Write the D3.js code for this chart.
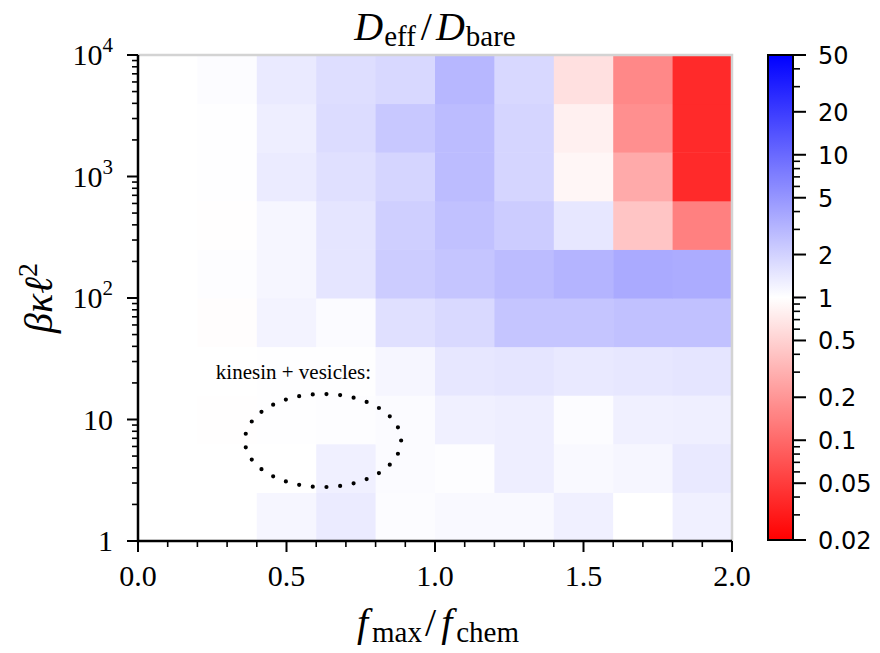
<!DOCTYPE html>
<html>
<head>
<meta charset="utf-8">
<script src="https://cdn.jsdelivr.net/npm/d3@7"></script>
<style>
  html, body { margin: 0; padding: 0; background: #fff; }
  svg { display: block; }
  .serif { font-family: "Liberation Serif", "DejaVu Serif", serif; }
  .sans { font-family: "DejaVu Sans", sans-serif; }
</style>
</head>
<body>
<svg id="chart" width="880" height="653"></svg>
<script>
// x bins: f_max / f_chem
const xEdges = [0, 0.2, 0.4, 0.6, 0.8, 1.0, 1.2, 1.4, 1.6, 1.8, 2.0];
// y bins: beta*kappa*l^2, 0.4 decades each (log10 exponents)
const yEdgeExps = [0, 0.4, 0.8, 1.2, 1.6, 2.0, 2.4, 2.8, 3.2, 3.6, 4.0];

// D_eff / D_bare per row, bottom row first
const row1 = [1.00, 1.00, 1.15, 1.35, 1.05, 1.10, 1.10, 1.25, 1.00, 1.25];
const row2 = [1.00, 1.00, 1.00, 1.25, 1.07, 1.03, 1.30, 1.10, 1.15, 1.40];
const row3 = [1.00, 0.99, 1.01, 1.03, 1.06, 1.25, 1.30, 1.05, 1.25, 1.27];
const row4 = [1.00, 1.00, 1.02, 1.02, 1.15, 1.45, 1.50, 1.40, 1.45, 1.50];
const row5 = [1.00, 0.97, 1.20, 1.07, 1.60, 1.80, 2.45, 2.45, 2.60, 2.60];
const row6 = [1.00, 1.03, 1.15, 1.50, 2.20, 2.45, 2.80, 3.16, 3.70, 3.60];
const row7 = [1.00, 0.98, 1.15, 1.50, 2.10, 2.60, 2.20, 1.45, 0.41, 0.143];
const row8 = [1.00, 1.02, 1.35, 1.60, 1.90, 2.80, 1.90, 0.87, 0.27, 0.038];
const row9 = [1.00, 1.02, 1.30, 1.70, 2.33, 2.80, 1.90, 0.79, 0.18, 0.038];
const row10 = [1.00, 1.05, 1.38, 1.66, 1.82, 3.00, 1.82, 0.62, 0.16, 0.038];
const rows = [row1, row2, row3, row4, row5, row6, row7, row8, row9, row10];

const xTicks = [0, 0.5, 1.0, 1.5, 2.0];
const xTickLabels = ["0.0", "0.5", "1.0", "1.5", "2.0"];
const yTicks = [1, 10, 100, 1000, 10000];
const cbTicks = [0.02, 0.05, 0.1, 0.2, 0.5, 1, 2, 5, 10, 20, 50];
const cbTickLabels = ["0.02", "0.05", "0.1", "0.2", "0.5", "1", "2", "5", "10", "20", "50"];
const vmin = 0.02, vmax = 50;

// annotated region (ellipse in linear-x / log-y space)
const ellipse = { cx: 0.623, cyExp: 0.827, ax: 0.263, byExp: 0.383 };
const annotation = { x: 0.262, y: 21.5, text: "kinesin + vesicles:" };

const svg = d3.select("#chart");
const plot = { left: 138, right: 732, top: 55, bottom: 541 };

const x = d3.scaleLinear().domain([0, 2]).range([plot.left, plot.right]);
const y = d3.scaleLog().domain([1, 1e4]).range([plot.bottom, plot.top]);

// blue-white-red diverging map on a log norm centred at 1
const cnorm = d3.scaleLog().domain([vmin, vmax]).range([0, 1]).clamp(true);
function cmap(v) {
  const t = cnorm(v);
  if (t < 0.5) {
    const s = t / 0.5;
    return d3.rgb(255, 255 * s, 255 * s);
  }
  const s = (t - 0.5) / 0.5;
  return d3.rgb(255 * (1 - s), 255 * (1 - s), 255);
}

// heatmap cells
const cells = [];
rows.forEach((r, j) => r.forEach((v, i) => cells.push({ i, j, v })));
svg.append("g").selectAll("rect").data(cells).join("rect")
  .attr("x", d => x(xEdges[d.i]))
  .attr("y", d => y(Math.pow(10, yEdgeExps[d.j + 1])))
  .attr("width", d => x(xEdges[d.i + 1]) - x(xEdges[d.i]) + 0.5)
  .attr("height", d => y(Math.pow(10, yEdgeExps[d.j])) - y(Math.pow(10, yEdgeExps[d.j + 1])) + 0.5)
  .attr("fill", d => cmap(d.v));

// top / right frame in light grey
svg.append("path")
  .attr("d", `M${plot.left},${plot.top}H${plot.right}V${plot.bottom}`)
  .attr("fill", "none").attr("stroke", "#d3d3d3").attr("stroke-width", 2.5);

// x axis
const gx = svg.append("g");
const xMinor = d3.range(0, 21).map(k => k / 10).filter(v => !xTicks.some(t => Math.abs(t - v) < 1e-9));
gx.selectAll("line.minor").data(xMinor).join("line")
  .attr("x1", d => x(d)).attr("x2", d => x(d))
  .attr("y1", plot.bottom).attr("y2", plot.bottom + 6)
  .attr("stroke", "#000").attr("stroke-width", 1.6);
gx.selectAll("line.major").data(xTicks).join("line")
  .attr("x1", d => x(d)).attr("x2", d => x(d))
  .attr("y1", plot.bottom).attr("y2", plot.bottom + 11)
  .attr("stroke", "#000").attr("stroke-width", 2);
gx.selectAll("text").data(xTicks).join("text")
  .attr("class", "serif")
  .attr("x", d => x(d)).attr("y", plot.bottom + 45)
  .attr("text-anchor", "middle").attr("font-size", 30)
  .text((d, k) => xTickLabels[k]);

// y axis
const gy = svg.append("g");
const yMinor = [];
for (let e = 0; e < 4; e++) for (let m = 2; m <= 9; m++) yMinor.push(m * Math.pow(10, e));
gy.selectAll("line.minor").data(yMinor).join("line")
  .attr("y1", d => y(d)).attr("y2", d => y(d))
  .attr("x1", plot.left).attr("x2", plot.left - 6)
  .attr("stroke", "#000").attr("stroke-width", 1.6);
gy.selectAll("line.major").data(yTicks).join("line")
  .attr("y1", d => y(d)).attr("y2", d => y(d))
  .attr("x1", plot.left).attr("x2", plot.left - 11)
  .attr("stroke", "#000").attr("stroke-width", 2);
const yLab = gy.selectAll("text").data(yTicks).join("text")
  .attr("class", "serif")
  .attr("x", plot.left - 25).attr("y", d => y(d) + 10)
  .attr("text-anchor", "end").attr("font-size", 30);
yLab.each(function (d) {
  const t = d3.select(this);
  const e = Math.round(Math.log10(d));
  if (e <= 1) { t.text(String(d)); return; }
  t.append("tspan").text("10");
  t.append("tspan").attr("dy", -13).attr("font-size", 21).text(String(e));
});

// spines
svg.append("path")
  .attr("d", `M${plot.left},${plot.top}V${plot.bottom}H${plot.right}`)
  .attr("fill", "none").attr("stroke", "#000").attr("stroke-width", 2.5);

// ellipse of dots
const ell = d3.range(0, 361).map(a => {
  const t = a * Math.PI / 180;
  return [x(ellipse.cx + ellipse.ax * Math.cos(t)), y(Math.pow(10, ellipse.cyExp + ellipse.byExp * Math.sin(t)))];
});
const ellPath = svg.append("path")
  .attr("d", d3.line()(ell))
  .attr("fill", "none").attr("stroke", "#000").attr("stroke-width", 4.2)
  .attr("stroke-linecap", "round");
const L = ellPath.node().getTotalLength();
ellPath.attr("stroke-dasharray", `0 ${L / 29}`);

svg.append("text").attr("class", "serif")
  .attr("x", x(annotation.x)).attr("y", y(annotation.y))
  .attr("font-size", 21).text(annotation.text);

// title
const title = svg.append("text").attr("class", "serif")
  .attr("x", (plot.left + plot.right) / 2).attr("y", 40)
  .attr("text-anchor", "middle").attr("font-size", 40);
title.append("tspan").attr("font-style", "italic").text("D");
title.append("tspan").attr("font-size", 29).attr("dy", 6).attr("dx", 1).text("eff");
title.append("tspan").attr("dy", -6).attr("dx", 5).text("/");
title.append("tspan").attr("font-style", "italic").attr("dx", 4).text("D");
title.append("tspan").attr("font-size", 29).attr("dy", 6).attr("dx", 1).text("bare");

// x label
const xl = svg.append("text").attr("class", "serif")
  .attr("x", (plot.left + plot.right) / 2 + 3).attr("y", 636)
  .attr("text-anchor", "middle").attr("font-size", 40);
xl.append("tspan").attr("font-style", "italic").text("f");
xl.append("tspan").attr("font-size", 29).attr("dy", 6).attr("dx", 4).text("max");
xl.append("tspan").attr("dy", -6).attr("dx", 3).text("/");
xl.append("tspan").attr("font-style", "italic").attr("dx", 5).text("f");
xl.append("tspan").attr("font-size", 29).attr("dy", 6).attr("dx", 4).text("chem");

// y label
const yl = svg.append("text").attr("class", "serif")
  .attr("transform", `translate(52,${(plot.top + plot.bottom) / 2}) rotate(-90)`)
  .attr("text-anchor", "middle").attr("font-size", 40).attr("font-style", "italic");
yl.append("tspan").text("βκℓ");
yl.append("tspan").attr("dy", -15).attr("font-size", 28).attr("font-style", "normal").text("2");

// colorbar
const cb = { left: 768, right: 793, top: 55, bottom: 540 };
const cy = d3.scaleLog().domain([vmin, vmax]).range([cb.bottom, cb.top]);
const defs = svg.append("defs");
const grad = defs.append("linearGradient").attr("id", "cbgrad")
  .attr("x1", 0).attr("y1", 1).attr("x2", 0).attr("y2", 0);
d3.range(0, 65).forEach(k => {
  const t = k / 64;
  const v = Math.pow(10, Math.log10(vmin) + t * (Math.log10(vmax) - Math.log10(vmin)));
  grad.append("stop").attr("offset", t).attr("stop-color", cmap(v));
});
svg.append("rect")
  .attr("x", cb.left).attr("y", cb.top)
  .attr("width", cb.right - cb.left).attr("height", cb.bottom - cb.top)
  .attr("fill", "url(#cbgrad)").attr("stroke", "#000").attr("stroke-width", 2);
const cbMinor = [];
[0.01, 0.1, 1, 10].forEach(dec => {
  for (let m = 1; m <= 9; m++) {
    const v = m * dec;
    if (v >= vmin && v <= vmax && !cbTicks.some(t => Math.abs(t - v) / v < 1e-6)) cbMinor.push(v);
  }
});
svg.append("g").selectAll("line").data(cbMinor).join("line")
  .attr("x1", cb.right).attr("x2", cb.right + 7)
  .attr("y1", d => cy(d)).attr("y2", d => cy(d))
  .attr("stroke", "#000").attr("stroke-width", 1.6);
svg.append("g").selectAll("line").data(cbTicks).join("line")
  .attr("x1", cb.right).attr("x2", cb.right + 13)
  .attr("y1", d => cy(d)).attr("y2", d => cy(d))
  .attr("stroke", "#000").attr("stroke-width", 2);
svg.append("g").selectAll("text").data(cbTicks).join("text")
  .attr("class", "sans")
  .attr("x", cb.right + 25).attr("y", d => cy(d) + 9)
  .attr("font-size", 24)
  .text((d, k) => cbTickLabels[k]);
</script>
</body>
</html>
